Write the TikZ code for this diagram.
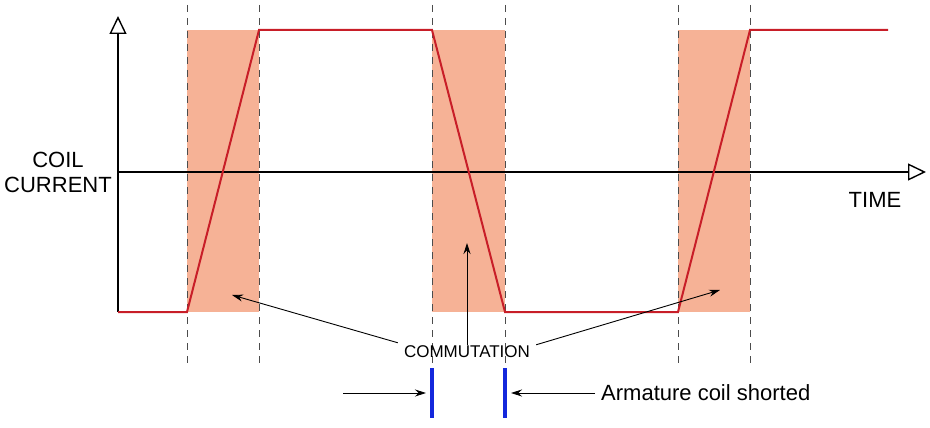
\documentclass[tikz,border=0pt]{standalone}
\usepackage{fontspec}
\setmainfont{Liberation Sans}
\usetikzlibrary{arrows.meta}
\definecolor{commfill}{RGB}{246,178,150}
\definecolor{wave}{RGB}{200,30,40}
\definecolor{bar}{RGB}{20,40,220}
\begin{document}
\begin{tikzpicture}[x=1pt,y=-1pt,
  axis/.style={line width=1.2pt,-{Triangle[open,length=18pt,width=17pt,line width=1.4pt]}},
  dash line/.style={dashed,dash pattern=on 7pt off 6pt,line width=0.7pt,black!70},
  ptr/.style={-{Stealth[length=11pt,width=7pt]},line width=0.9pt},
  lbl/.style={font=\fontsize{22}{25}\selectfont,inner sep=1pt}]
\useasboundingbox (0,0) rectangle (930,428);
\foreach \a/\b in {187/259,432/505,678/750}
  \fill[commfill] (\a,30) rectangle (\b,312);
\foreach \x in {187,259,432,505,678,750}
  \draw[dash line] (\x,5) -- (\x,365);
\coordinate (o) at (118,312);
\coordinate (ytip) at (118,16);
\coordinate (x0) at (118,172);
\coordinate (xtip) at (926,172);
\draw[axis] (o) -- (ytip);
\draw[axis] (x0) -- (xtip);
\draw[wave,line width=2pt] (118,312) -- (187,312) -- (259,30) -- (432,30) -- (505,312) -- (678,312) -- (750,30) -- (888,30);
\node[lbl,align=center] (coil) at (58,172) {COIL\\CURRENT};
\node[lbl] (time) at (875,200) {TIME};
\node[font=\fontsize{17}{19}\selectfont,inner sep=1pt] (comm) at (467,352) {COMMUTATION};
\coordinate (p1) at (232,295);
\coordinate (p2) at (467,243);
\coordinate (p3) at (720,290);
\draw[ptr] (comm.north west) ++(-5,-2) -- (p1);
\draw[ptr] (comm.north) -- (p2);
\draw[ptr] (comm.north east) ++(5,0) -- (p3);
\coordinate (b1t) at (432,368); \coordinate (b1b) at (432,418);
\coordinate (b2t) at (505,368); \coordinate (b2b) at (505,418);
\draw[bar,line width=3.5pt] (b1t) -- (b1b);
\draw[bar,line width=3.5pt] (b2t) -- (b2b);
\coordinate (l1) at (343,393); \coordinate (l1e) at (426,393);
\coordinate (r1) at (595,393); \coordinate (r1e) at (511,393);
\draw[ptr] (l1) -- (l1e);
\draw[ptr] (r1) -- (r1e);
\node[lbl,anchor=west] (arm) at (600,393) {Armature coil shorted};
\end{tikzpicture}
\end{document}
